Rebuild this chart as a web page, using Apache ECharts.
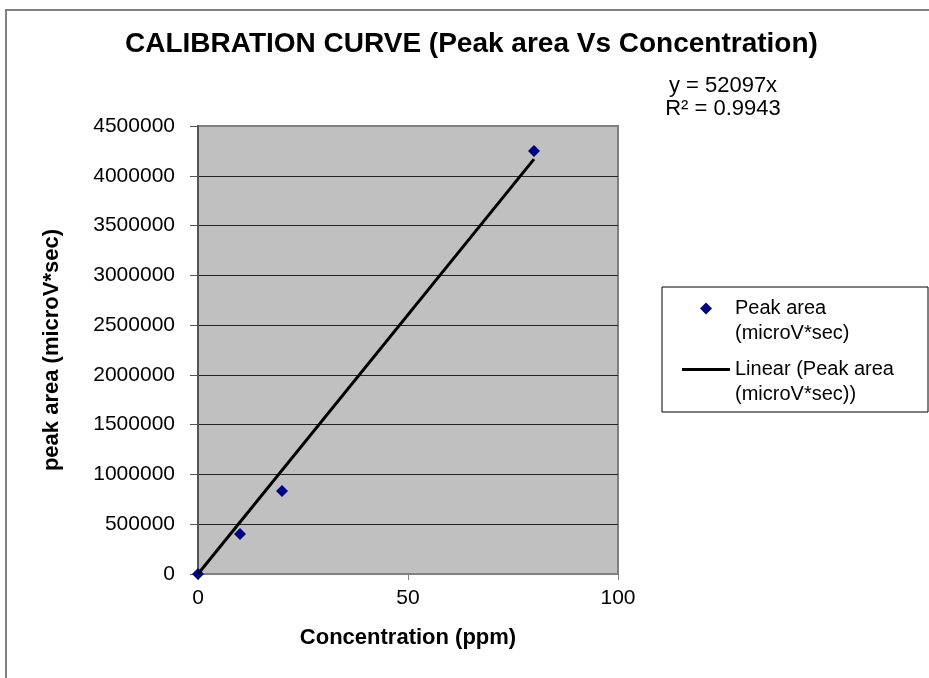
<!DOCTYPE html>
<html>
<head>
<meta charset="utf-8">
<script src="https://cdn.jsdelivr.net/npm/echarts@6/dist/echarts.min.js"></script>
<style>
  html, body { margin: 0; padding: 0; background: #fff; }
  #chart { width: 929px; height: 678px; }
</style>
</head>
<body>
<div id="chart"></div>
<script>
// concentration (ppm) vs peak area readings
const concentration = [0, 10, 20, 80];
const peakArea = [0, 402000, 834000, 4250000];
// trendline y = 52097x, drawn over the data range
const trendX = [0, 80];
const trendY = [0, 4167760];

const font = '"Liberation Sans", Arial, sans-serif';

const chart = echarts.init(document.getElementById('chart'));
chart.setOption({
  backgroundColor: '#fff',
  animation: false,
  textStyle: { fontFamily: font, color: '#000' },
  title: [{
    text: 'CALIBRATION CURVE (Peak area Vs Concentration)',
    left: 125,
    top: 30,
    padding: 0,
    textStyle: { fontFamily: font, fontSize: 28, fontWeight: 'bold', color: '#000' },
  }, {
    text: 'y = 52097x\nR² = 0.9943',
    left: 723,
    top: 74,
    padding: 0,
    textAlign: 'center',
    textStyle: { fontFamily: font, fontSize: 22, fontWeight: 'normal', color: '#000', lineHeight: 23 },
  }],
  legend: {
    orient: 'vertical',
    left: 677,
    top: 266,
    itemWidth: 48,
    itemHeight: 12,
    itemGap: -14,
    selectedMode: false,
    symbolKeepAspect: true,
    data: [
      { name: 'Peak area (microV*sec)', icon: 'path://M6,0L12,6L6,12L0,6Z' },
      { name: 'Linear (Peak area (microV*sec))', icon: 'path://M0,0L48,0L48,3L0,3Z' },
    ],
    // blank first line keeps the first text row level with the icon
    formatter: (name) => '\n' + name.replace(' (micro', '\n(micro'),
    textStyle: { fontFamily: font, fontSize: 20, color: '#000', lineHeight: 25 },
  },
  grid: {
    left: 198,
    top: 126,
    width: 420,
    height: 448,
    show: true,
    backgroundColor: '#C0C0C0',
    borderColor: '#808080',
    borderWidth: 2,
  },
  xAxis: {
    type: 'value',
    min: 0,
    max: 100,
    interval: 50,
    name: 'Concentration (ppm)',
    nameLocation: 'middle',
    nameGap: 53,
    nameTextStyle: { fontFamily: font, fontSize: 22, fontWeight: 'bold', color: '#000' },
    axisLine: { show: true, lineStyle: { color: '#808080', width: 2 } },
    axisTick: { show: true, length: 6, lineStyle: { color: '#808080' } },
    axisLabel: { fontFamily: font, fontSize: 21, color: '#000', margin: 14 },
    splitLine: { show: false },
  },
  yAxis: {
    type: 'value',
    min: 0,
    max: 4500000,
    interval: 500000,
    name: 'peak area (microV*sec)',
    nameLocation: 'middle',
    nameGap: 135,
    nameTextStyle: { fontFamily: font, fontSize: 22, fontWeight: 'bold', color: '#000' },
    axisLine: { show: true, lineStyle: { color: '#555', width: 2 } },
    axisTick: { show: true, length: 8, lineStyle: { color: '#555' } },
    axisLabel: { fontFamily: font, fontSize: 21, color: '#000', margin: 23, formatter: (v) => String(v) },
    splitLine: { show: true, showMinLine: false, showMaxLine: false, lineStyle: { color: '#222', width: 1 } },
  },
  graphic: [{
    type: 'rect',
    shape: { x: 6, y: 10, width: 1000, height: 1000 },
    style: { fill: 'none', stroke: '#808080', lineWidth: 2 },
    silent: true,
  }, {
    type: 'rect',
    shape: { x: 662, y: 287, width: 266, height: 125 },
    style: { fill: 'none', stroke: '#000', lineWidth: 1 },
    silent: true,
  }],
  series: [{
    name: 'Peak area (microV*sec)',
    type: 'scatter',
    symbol: 'diamond',
    symbolSize: 12,
    clip: false,
    itemStyle: { color: '#000080', opacity: 1 },
    data: concentration.map((x, i) => [x, peakArea[i]]),
  }, {
    name: 'Linear (Peak area (microV*sec))',
    type: 'line',
    symbol: 'none',
    lineStyle: { color: '#000', width: 3 },
    itemStyle: { color: '#000' },
    data: trendX.map((x, i) => [x, trendY[i]]),
  }],
});
</script>
</body>
</html>
